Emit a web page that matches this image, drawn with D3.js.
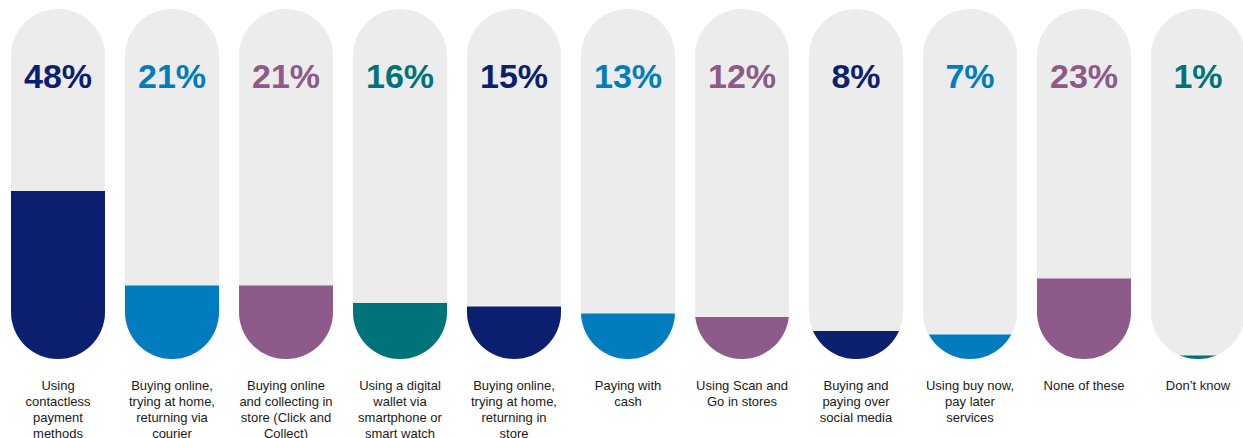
<!DOCTYPE html>
<html>
<head>
<meta charset="utf-8">
<script src="https://cdn.jsdelivr.net/npm/d3@7"></script>
<style>
body {
  margin: 0;
  background-color: white;
}
.pct {
  font-family: "Liberation Sans", Arial, sans-serif;
  font-weight: bold;
  font-size: 34px;
}
.label {
  font-family: "Liberation Sans", Arial, sans-serif;
  font-size: 13px;
  fill: #1a1a1a;
}
</style>
</head>
<body>
<script>
const categories = [
  "Using contactless payment methods",
  "Buying online, trying at home, returning via courier",
  "Buying online and collecting in store (Click and Collect)",
  "Using a digital wallet via smartphone or smart watch",
  "Buying online, trying at home, returning in store",
  "Paying with cash",
  "Using Scan and Go in stores",
  "Buying and paying over social media",
  "Using buy now, pay later services",
  "None of these",
  "Don\u2019t know"
];
// how the labels wrap in the original
const labelLines = [
  ["Using", "contactless", "payment", "methods"],
  ["Buying online,", "trying at home,", "returning via", "courier"],
  ["Buying online", "and collecting in", "store (Click and", "Collect)"],
  ["Using a digital", "wallet via", "smartphone or", "smart watch"],
  ["Buying online,", "trying at home,", "returning in", "store"],
  ["Paying with", "cash"],
  ["Using Scan and", "Go in stores"],
  ["Buying and", "paying over", "social media"],
  ["Using buy now,", "pay later", "services"],
  ["None of these"],
  ["Don\u2019t know"]
];
const values = [48, 21, 21, 16, 15, 13, 12, 8, 7, 23, 1];
const navy = "#0c1f6e", blue = "#007cbf", purple = "#8d5a89", teal = "#00737a";
const colors = [navy, blue, purple, teal, navy, blue, purple, navy, blue, purple, teal];

const svg = d3.select("body")
  .append("svg")
  .attr("width", 1243)
  .attr("height", 438);

const pillTop = 9, pillBottom = 359;

const x = d3.scaleBand()
  .domain(categories)
  .range([11, 1245])
  .paddingInner(20 / 114)
  .paddingOuter(0);

const y = d3.scaleLinear()
  .domain([0, 100])
  .range([pillBottom, pillTop]);

const bw = x.bandwidth();
const r = bw / 2;

const data = categories.map((c, i) => ({cat: c, value: values[i], color: colors[i], lines: labelLines[i], i: i}));

const defs = svg.append("defs");
defs.selectAll("clipPath").data(data).enter()
  .append("clipPath")
  .attr("id", d => "pill" + d.i)
  .append("rect")
  .attr("x", d => x(d.cat))
  .attr("y", y(100))
  .attr("width", bw)
  .attr("height", y(0) - y(100))
  .attr("rx", r)
  .attr("ry", r);

const g = svg.selectAll("g.pill").data(data).enter()
  .append("g")
  .attr("class", "pill");

// grey background pill
g.append("rect")
  .attr("x", d => x(d.cat))
  .attr("y", y(100))
  .attr("width", bw)
  .attr("height", y(0) - y(100))
  .attr("rx", r)
  .attr("ry", r)
  .attr("fill", "#ececec");

// value fill, clipped to the pill shape
g.append("rect")
  .attr("clip-path", d => `url(#pill${d.i})`)
  .attr("x", d => x(d.cat))
  .attr("y", d => y(d.value))
  .attr("width", bw)
  .attr("height", d => y(0) - y(d.value))
  .attr("fill", d => d.color);

g.append("text")
  .attr("class", "pct")
  .attr("text-anchor", "middle")
  .attr("x", d => x(d.cat) + r)
  .attr("y", 88)
  .attr("fill", d => d.color)
  .text(d => d.value + "%");

g.append("text")
  .attr("class", "label")
  .attr("text-anchor", "middle")
  .selectAll("tspan")
  .data(d => d.lines.map(l => ({line: l, cx: x(d.cat) + r})))
  .enter()
  .append("tspan")
  .attr("x", d => d.cx)
  .attr("y", (d, j) => 390 + j * 16)
  .text(d => d.line);
</script>
</body>
</html>
